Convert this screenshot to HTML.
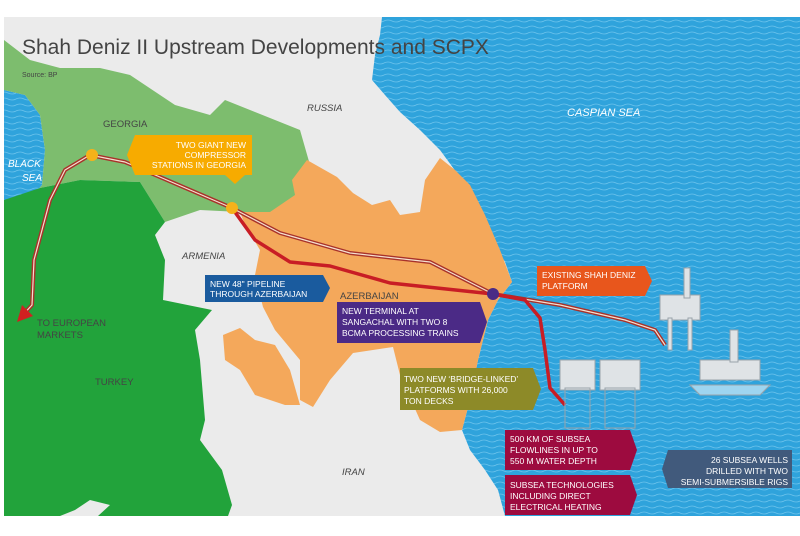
<!DOCTYPE html>
<html><head><meta charset="utf-8"><style>
html,body{margin:0;padding:0;background:#fff;}
svg{display:block;font-family:"Liberation Sans",Arial,sans-serif;}
</style></head><body>
<svg width="800" height="536" viewBox="0 0 800 536" xmlns="http://www.w3.org/2000/svg">
<defs>
<pattern id="w" width="16" height="6" patternUnits="userSpaceOnUse">
<rect width="16" height="6" fill="#2fa3dc"/>
<path d="M0 3 Q4 1 8 3 T16 3" stroke="#6cc3ec" stroke-width="0.8" fill="none"/>
</pattern>
</defs>
<rect x="4" y="17" width="796" height="499" fill="#ebebeb"/>
<!-- Caspian -->
<path d="M382 17 L800 17 L800 516 L505 516 L498 490 L485 470 L470 450 L462 430 L470 400 L478 360 L488 320 L498 300 L512 282 L505 262 L492 240 L478 210 L462 180 L440 150 L420 130 L400 112 L385 95 L372 80 L375 55 L380 35 Z" fill="url(#w)"/>
<!-- Black sea -->
<path d="M4 90 L25 95 L40 115 L45 150 L42 185 L25 205 L4 215 Z" fill="url(#w)"/>
<!-- Georgia -->
<path d="M4 40 L30 60 L60 68 L100 68 L130 75 L175 105 L210 115 L225 100 L255 112 L280 122 L300 130 L310 165 L300 185 L320 215 L305 222 L270 212 L240 212 L200 210 L165 222 L140 182 L80 180 L40 188 L10 200 L4 200 L4 215 L25 205 L42 185 L45 150 L40 115 L25 95 L4 90 Z" fill="#7dbd6e"/>
<!-- Turkey -->
<path d="M4 200 L40 188 L80 180 L140 182 L165 222 L155 235 L165 260 L163 300 L212 310 L195 330 L200 360 L205 420 L200 440 L222 470 L232 505 L228 516 L98 516 L110 505 L90 500 L75 510 L60 516 L4 516 Z" fill="#22a33b"/>
<!-- Azerbaijan main -->
<path d="M240 212 L270 212 L295 195 L292 180 L307 160 L337 177 L353 193 L372 205 L390 200 L400 215 L420 212 L425 180 L440 158 L455 170 L470 185 L485 215 L500 250 L512 282 L498 300 L488 320 L478 360 L470 400 L462 430 L440 432 L420 420 L400 375 L393 347 L353 353 L330 380 L313 407 L300 400 L300 360 L275 330 L263 307 L255 275 L260 250 L245 225 Z" fill="#f4a85b"/>
<!-- Nakhchivan -->
<path d="M223 335 L240 328 L255 340 L275 345 L290 370 L300 405 L285 405 L255 395 L240 370 L225 360 Z" fill="#f4a85b"/>
<!-- pipelines -->
<g fill="none" stroke-linejoin="round">
<path d="M20 318 L32 305 L34 260 L50 200 L65 170 L90 155 L125 162 L232 208 L280 233 L350 253 L430 262 L493 294 L560 305 L625 320 L655 330 L665 345" stroke="#a8322a" stroke-width="4"/>
<path d="M20 318 L32 305 L34 260 L50 200 L65 170 L90 155 L125 162 L232 208 L280 233 L350 253 L430 262 L493 294 L560 305 L625 320 L655 330 L665 345" stroke="#f4e0d0" stroke-width="1.2"/>
<path d="M232 208 L255 240 L290 262 L330 266 L390 283 L493 294 L525 300 L540 318 L545 350 L550 388 L565 405" stroke="#c81d25" stroke-width="3.5"/>
</g>
<polygon points="17,322 22,305 33,316" fill="#d22020"/>
<circle cx="92" cy="155" r="6" fill="#f6b21a"/>
<circle cx="232" cy="208" r="6" fill="#f6b21a"/>
<circle cx="493" cy="294" r="6" fill="#4a2b86"/>
<!-- platforms -->
<g fill="#dfe3e6" stroke="#9aa3aa" stroke-width="1">
<rect x="660" y="295" width="40" height="25"/>
<rect x="668" y="318" width="4" height="32"/><rect x="688" y="318" width="4" height="32"/>
<rect x="684" y="268" width="6" height="30"/>
<rect x="560" y="360" width="35" height="30"/><rect x="600" y="360" width="40" height="30"/>
<rect x="565" y="388" width="25" height="40" fill="none"/><rect x="605" y="388" width="30" height="40" fill="none"/>
<rect x="700" y="360" width="60" height="20"/>
<polygon points="690,385 770,385 760,395 700,395" fill="#9ed5f0"/>
<rect x="730" y="330" width="8" height="32"/>
</g>
<!-- title -->
<text x="22" y="54" font-size="21" fill="#444">Shah Deniz II Upstream Developments and SCPX</text>
<text x="22" y="77" font-size="7" fill="#444">Source: BP</text>
<g font-size="9.5" fill="#444">
<text x="103" y="127">GEORGIA</text>
<text x="307" y="111" font-style="italic">RUSSIA</text>
<text x="182" y="259" font-style="italic">ARMENIA</text>
<text x="340" y="299">AZERBAIJAN</text>
<text x="95" y="385">TURKEY</text>
<text x="342" y="475" font-style="italic">IRAN</text>
<text x="37" y="326">TO EUROPEAN</text>
<text x="37" y="338">MARKETS</text>
</g>
<text x="567" y="116" font-size="11" fill="#fff" font-style="italic">CASPIAN SEA</text>
<text x="8" y="167" font-size="10" fill="#fff" font-style="italic">BLACK</text>
<text x="22" y="181" font-size="10" fill="#fff" font-style="italic">SEA</text>
<!-- callouts -->
<g font-size="8.5" fill="#fff">
<polygon points="135,135 252,135 252,175 245,175 235,184 225,175 135,175 127,155" fill="#f7ab00"/>
<text x="246" y="148" text-anchor="end">TWO GIANT NEW</text>
<text x="246" y="158" text-anchor="end">COMPRESSOR</text>
<text x="246" y="168" text-anchor="end">STATIONS IN GEORGIA</text>
<polygon points="205,275 323,275 330,288 323,302 205,302" fill="#1a5b9e"/>
<text x="210" y="287">NEW 48" PIPELINE</text>
<text x="210" y="297">THROUGH AZERBAIJAN</text>
<polygon points="337,302 480,302 487,322 480,343 337,343" fill="#4b2a86"/>
<text x="342" y="314">NEW TERMINAL AT</text>
<text x="342" y="325">SANGACHAL WITH TWO 8</text>
<text x="342" y="336">BCMA PROCESSING TRAINS</text>
<polygon points="537,266 645,266 652,281 645,296 537,296" fill="#e8561c"/>
<text x="542" y="278">EXISTING SHAH DENIZ</text>
<text x="542" y="289">PLATFORM</text>
<polygon points="400,368 533,368 541,389 533,410 400,410" fill="#8d8a28"/>
<text x="404" y="382">TWO NEW ‘BRIDGE-LINKED’</text>
<text x="404" y="393">PLATFORMS WITH 26,000</text>
<text x="404" y="404">TON DECKS</text>
<polygon points="505,430 630,430 637,450 630,470 505,470" fill="#9d0b3f"/>
<text x="510" y="442">500 KM OF SUBSEA</text>
<text x="510" y="453">FLOWLINES IN UP TO</text>
<text x="510" y="464">550 M WATER DEPTH</text>
<polygon points="505,475 630,475 637,495 630,515 505,515" fill="#9d0b3f"/>
<text x="510" y="488">SUBSEA TECHNOLOGIES</text>
<text x="510" y="499">INCLUDING DIRECT</text>
<text x="510" y="510">ELECTRICAL HEATING</text>
<polygon points="668,450 792,450 792,488 668,488 662,469" fill="#415a7c"/>
<text x="788" y="463" text-anchor="end">26 SUBSEA WELLS</text>
<text x="788" y="474" text-anchor="end">DRILLED WITH TWO</text>
<text x="788" y="485" text-anchor="end">SEMI-SUBMERSIBLE RIGS</text>
</g>
</svg>
</body></html>
